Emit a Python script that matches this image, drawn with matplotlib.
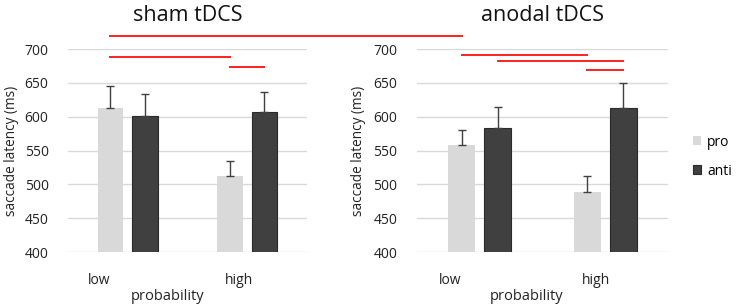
import numpy as np
import matplotlib.pyplot as plt

plt.rcParams['font.family'] = ['Open Sans', 'DejaVu Sans']

# data
categories = ['low', 'high']
panels = ['sham tDCS', 'anodal tDCS']
pro_mean = [[613, 512], [558, 489]]
pro_err = [[33, 22], [23, 23]]
anti_mean = [[601, 607], [584, 613]]
anti_err = [[33, 30], [31, 37]]

# significance lines inside a panel: panel, (category, series), (category, series), level in ms
sig_within = [
    (0, (0, 'pro'), (1, 'pro'), 688),
    (0, (1, 'pro'), (1, 'anti'), 674),
    (1, (0, 'pro'), (1, 'pro'), 692),
    (1, (0, 'anti'), (1, 'anti'), 682),
    (1, (1, 'pro'), (1, 'anti'), 669),
]
# significance line across panels: (panel, category, series) -> (panel, category, series), level
sig_between = [((0, 0, 'pro'), (1, 0, 'pro'), 720)]

pro_col = '#d9d9d9'
anti_col = '#404040'
red = '#ff2020'
txt = '#222222'
width = 0.215
offs = {'pro': -0.145, 'anti': 0.145}

fig = plt.figure(figsize=(7.37, 3.07), dpi=100)
ax_pos = [[0.0923, 0.179, 0.324, 0.661], [0.5658, 0.179, 0.3406, 0.661]]
xlab_x = [0.418, 0.438]
axes = []
x = np.arange(len(categories))
for i, name in enumerate(panels):
    ax = fig.add_axes(ax_pos[i])
    axes.append(ax)
    ax.set_axisbelow(True)
    ax.yaxis.grid(True, color='#d9d9d9', lw=1)
    ekw = dict(ecolor='#404040', lw=1, capsize=3, capthick=1)
    ax.bar(x + offs['pro'], pro_mean[i], width, color=pro_col, label='pro',
           yerr=[np.zeros(2), pro_err[i]], error_kw=ekw)
    ax.bar(x + offs['anti'], anti_mean[i], width, color=anti_col, edgecolor='#2a2a2a', lw=0.8,
           label='anti', yerr=[np.zeros(2), anti_err[i]], error_kw=ekw)
    ax.set_xlim(-0.5, 1.5)
    ax.set_ylim(400, 700)
    ax.set_yticks(np.arange(400, 701, 50))
    ax.set_xticks(x + np.array([-0.24, -0.07]))
    ax.set_xticklabels(categories, fontsize=10, color=txt)
    ax.tick_params(axis='x', length=0, pad=15)
    ax.tick_params(axis='y', length=0, labelsize=10, labelcolor=txt, pad=14)
    for s in ax.spines.values():
        s.set_visible(False)
    ax.set_xlabel('probability', fontsize=10.5, color=txt)
    ax.xaxis.set_label_coords(xlab_x[i], -0.18)
    ax.set_ylabel('saccade latency (ms)', fontsize=9.8, color=txt)
    ax.yaxis.set_label_coords(-0.205, 0.5)
    ax.set_title(name, fontsize=15.5, color='#111111', pad=20)

for p, (c1, s1), (c2, s2), lvl in sig_within:
    axes[p].plot([c1 + offs[s1], c2 + offs[s2]], [lvl, lvl], color=red, lw=1.4, clip_on=False)

for (p1, c1, s1), (p2, c2, s2), lvl in sig_between:
    # end point taken from the other panel's bar position
    xb_disp = axes[p2].transData.transform((c2 + offs[s2], 700))[0]
    xb = axes[p1].transData.inverted().transform((xb_disp, 0))[0]
    axes[p1].plot([c1 + offs[s1], xb], [lvl, lvl], color=red, lw=1.4, clip_on=False)

axes[1].legend(loc='center left', bbox_to_anchor=(1.05, 0.47), frameon=False, fontsize=10,
               handlelength=0.6, handleheight=0.6, handletextpad=0.4, labelspacing=1.0)

fig.savefig('out.png', dpi=100)
